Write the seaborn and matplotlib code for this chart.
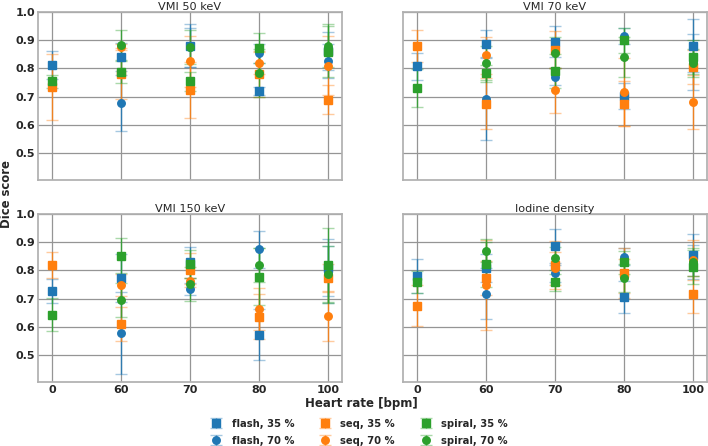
import numpy as np
import pandas as pd
import matplotlib
matplotlib.use("Agg")
import matplotlib.pyplot as plt
import seaborn as sns

nan = np.nan
categories = ["0", "60", "70", "80", "100"]
panel_titles = ["VMI 50 keV", "VMI 70 keV", "VMI 150 keV", "Iodine density"]
series_labels = ["flash, 35 %", "flash, 70 %", "seq, 35 %", "seq, 70 %",
                 "spiral, 35 %", "spiral, 70 %"]
series_markers = ["s", "o", "s", "o", "s", "o"]

# rows = series (same order as series_labels), cols = heart rate categories
vmi50_mean = [[0.811, 0.841, 0.880, 0.720, 0.861],
              [nan, 0.677, 0.875, 0.854, 0.826],
              [0.735, 0.782, 0.724, 0.779, 0.690],
              [nan, 0.877, 0.825, 0.821, 0.810],
              [0.754, 0.788, 0.754, 0.873, 0.860],
              [nan, 0.882, 0.875, 0.784, 0.881]]
vmi50_err = [[0.050, 0.050, 0.076, 0.015, 0.067],
             [nan, 0.100, 0.070, 0.033, 0.060],
             [0.118, 0.090, 0.100, 0.080, 0.050],
             [nan, 0.010, 0.090, 0.040, 0.105],
             [0.023, 0.038, 0.035, 0.053, 0.090],
             [nan, 0.053, 0.060, 0.085, 0.075]]

vmi70_mean = [[0.808, 0.887, 0.895, 0.702, 0.881],
              [nan, 0.692, 0.770, 0.915, 0.823],
              [0.880, 0.675, 0.867, 0.675, 0.804],
              [nan, 0.846, 0.722, 0.716, 0.680],
              [0.730, 0.783, 0.791, 0.900, 0.841],
              [nan, 0.818, 0.856, 0.841, 0.820]]
vmi70_err = [[0.048, 0.050, 0.055, 0.045, 0.093],
             [nan, 0.147, 0.030, 0.030, 0.100],
             [0.057, 0.090, 0.065, 0.080, 0.060],
             [nan, 0.065, 0.080, 0.120, 0.096],
             [0.067, 0.030, 0.060, 0.045, 0.060],
             [nan, 0.060, 0.056, 0.070, 0.050]]

vmi150_mean = [[0.727, 0.774, 0.829, 0.572, 0.810],
               [nan, 0.579, 0.734, 0.875, 0.786],
               [0.820, 0.611, 0.803, 0.636, 0.773],
               [nan, 0.748, 0.762, 0.663, 0.639],
               [0.644, 0.853, 0.822, 0.778, 0.820],
               [nan, 0.696, 0.753, 0.818, 0.786]]
vmi150_err = [[0.043, 0.085, 0.055, 0.090, 0.100],
              [nan, 0.145, 0.020, 0.065, 0.100],
              [0.045, 0.060, 0.060, 0.080, 0.050],
              [nan, 0.040, 0.010, 0.075, 0.088],
              [0.060, 0.063, 0.050, 0.100, 0.130],
              [nan, 0.060, 0.060, 0.060, 0.100]]

iodine_mean = [[0.779, 0.810, 0.887, 0.706, 0.855],
               [nan, 0.717, 0.790, 0.849, 0.830],
               [0.675, 0.772, 0.819, 0.791, 0.716],
               [nan, 0.748, 0.807, 0.780, 0.837],
               [0.760, 0.822, 0.759, 0.829, 0.813],
               [nan, 0.870, 0.843, 0.774, 0.831]]
iodine_err = [[0.060, 0.050, 0.060, 0.057, 0.075],
              [nan, 0.090, 0.030, 0.030, 0.060],
              [0.073, 0.060, 0.085, 0.090, 0.066],
              [nan, 0.160, 0.060, 0.060, 0.070],
              [0.039, 0.080, 0.030, 0.040, 0.060],
              [nan, 0.040, 0.040, 0.050, 0.050]]

panel_means = [vmi50_mean, vmi70_mean, vmi150_mean, iodine_mean]
panel_errs = [vmi50_err, vmi70_err, vmi150_err, iodine_err]

sns.set_theme(style="whitegrid")
plt.rcParams["font.family"] = ["DejaVu Sans"]
plt.rcParams["axes.edgecolor"] = "#b0b0b0"
plt.rcParams["grid.color"] = "#959595"
plt.rcParams["grid.linewidth"] = 0.9

palette = sns.color_palette("tab10", 3)
series_colors = [palette[0], palette[0], palette[1], palette[1], palette[2], palette[2]]

fig = plt.figure(figsize=(7.08, 4.46), dpi=100)
W, H = 708, 446
boxes = [(38, 12), (403, 12), (38, 214), (403, 214)]
aw, ah = 304, 168
axes = []
for (l, t) in boxes:
    axes.append(fig.add_axes([l / W, 1 - (t + ah) / H, aw / W, ah / H]))

handles = []
for pi, ax in enumerate(axes):
    means = panel_means[pi]
    errs = panel_errs[pi]
    for si in range(6):
        df = pd.DataFrame({"hr": categories, "dice": means[si], "err": errs[si]})
        c = ax.errorbar(df["hr"], df["dice"], yerr=df["err"], fmt=series_markers[si],
                        color=series_colors[si], ms=5.4, mec=series_colors[si],
                        elinewidth=1.0, capsize=4.5, capthick=1.0,
                        label=series_labels[si])
        for cap in c[1]:
            cap.set_alpha(0.4)
        for bl in c[2]:
            bl.set_alpha(0.85)
        if pi == 0:
            handles.append(c)
    ax.set_xlim(-0.2, 4.2)
    ax.set_ylim(0.405, 1.0)
    ax.set_yticks([0.5, 0.6, 0.7, 0.8, 0.9, 1.0])
    ax.grid(True, axis="both")
    ax.tick_params(axis="both", labelsize=8, pad=2, length=0)
    for lab in ax.get_xticklabels() + ax.get_yticklabels():
        lab.set_fontweight("bold")
    if pi in (1, 3):
        ax.set_yticklabels([])
    if pi in (0, 1):
        ax.set_xticklabels([])
    ax.set_xlabel("")
    ax.set_ylabel("")
    # title placed just above the axes box
    ax.text(0.5, 1.0 + 2.3 / ah, panel_titles[pi], transform=ax.transAxes,
            ha="center", va="baseline", fontsize=8.1)

fig.text(0.0095, 0.565, "Dice score", rotation=90, ha="center", va="center",
         fontsize=8.4, fontweight="bold")
fig.text(0.511, 0.096, "Heart rate [bpm]", ha="center", va="center",
         fontsize=8.5, fontweight="bold")
leg = fig.legend(handles=handles, labels=series_labels, ncol=3, loc="center",
                 bbox_to_anchor=(0.506, 0.031), frameon=False,
                 prop={"size": 7.2, "weight": "bold"}, columnspacing=2.3,
                 handletextpad=0.8, labelspacing=0.7, handlelength=1.5)

fig.savefig("out.png", dpi=100)
